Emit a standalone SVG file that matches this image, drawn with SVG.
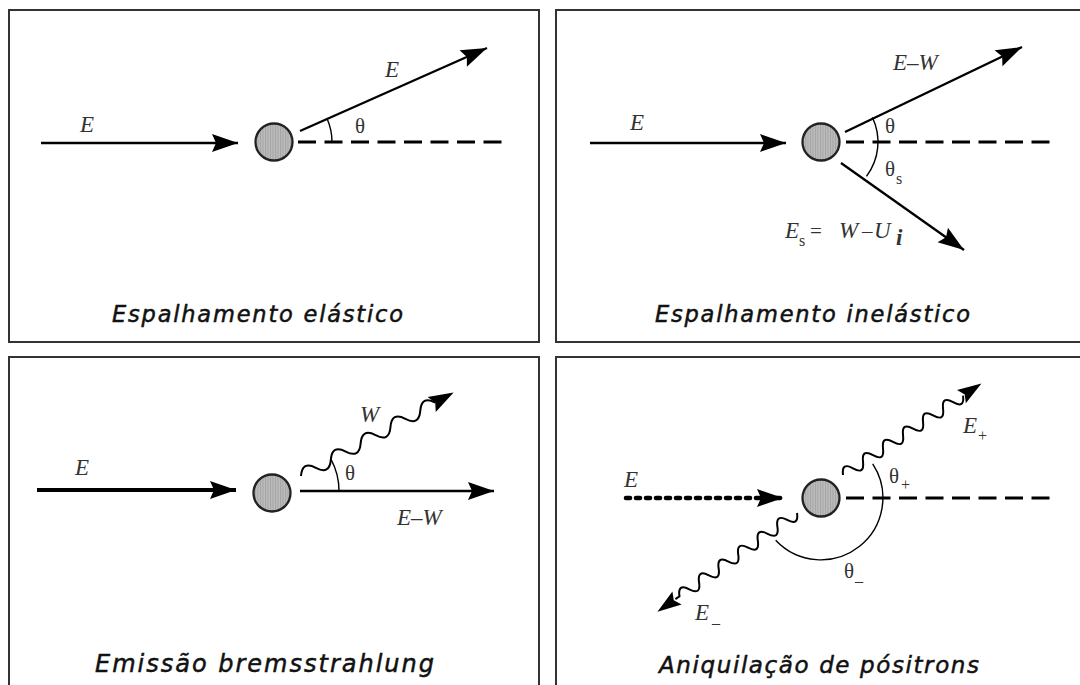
<svg xmlns="http://www.w3.org/2000/svg" width="1080" height="685" viewBox="0 0 1080 685">
<defs>
<style>
.frame{fill:none;stroke:#333;stroke-width:2}
.ln{fill:none;stroke:#000;stroke-width:2.3}
.thick{fill:none;stroke:#000;stroke-width:3.8}
.dots{fill:none;stroke:#000;stroke-width:4.6;stroke-linecap:round;stroke-dasharray:4 6}
.dash{fill:none;stroke:#000;stroke-width:2.8;stroke-dasharray:18 8.5}
.arc{fill:none;stroke:#000;stroke-width:1.4}
.wave{fill:none;stroke:#000;stroke-width:2}
.head{fill:#000}
.m{font-family:"Liberation Serif","DejaVu Serif",serif;font-size:23px;font-style:italic;fill:#333}
.g{font-family:"Liberation Serif","DejaVu Serif",serif;font-size:21px;fill:#333}
.sub{font-family:"Liberation Serif","DejaVu Serif",serif;font-size:16px;fill:#333}
.cap{font-family:"DejaVu Sans","Liberation Sans",sans-serif;font-style:italic;fill:#111;stroke:#111;stroke-width:0.5}
.atom{fill:url(#stripe);stroke:#222;stroke-width:2.3}
</style>
<pattern id="stripe" width="2.5" height="4" patternUnits="userSpaceOnUse">
<rect width="2.5" height="4" fill="#bcbcbc"/>
<rect width="1" height="4" fill="#a4a4a4"/>
</pattern>
<marker id="ah" markerUnits="userSpaceOnUse" viewBox="-28 -10 30 20" refX="0" refY="0" markerWidth="30" markerHeight="20" orient="auto">
<path d="M0,0 L-26,-9 L-22,0 L-26,9 Z" fill="#000"/>
</marker>
</defs>
<rect width="1080" height="685" fill="#fff"/>

<g id="panel-elastic">
<rect class="frame" x="9" y="10" width="530" height="332"/>
<g id="atom1"><circle class="atom" cx="274" cy="142" r="18.5"/></g>
<g id="connectors1">
<line class="ln" x1="41" y1="143" x2="238" y2="143" marker-end="url(#ah)"/>
<line class="dash" x1="298" y1="142" x2="503" y2="142"/>
<line class="ln" x1="300" y1="131" x2="487" y2="48" marker-end="url(#ah)"/>
<path class="arc" d="M327,118.5 A58,58 0 0 1 332,142"/>
</g>
<text class="m" x="80" y="132">E</text>
<text class="m" x="385" y="77">E</text>
<text class="g" x="355" y="133">θ</text>
<text class="cap" x="112" y="322" font-size="22.5" textLength="291" lengthAdjust="spacing">Espalhamento elástico</text>
</g>

<g id="panel-inelastic">
<rect class="frame" x="556" y="10" width="540" height="332"/>
<g id="atom2"><circle class="atom" cx="821" cy="142" r="18.5"/></g>
<g id="connectors2">
<line class="ln" x1="590" y1="143" x2="786" y2="143" marker-end="url(#ah)"/>
<line class="dash" x1="846" y1="142" x2="1053" y2="142"/>
<line class="ln" x1="845" y1="132" x2="1022" y2="47" marker-end="url(#ah)"/>
<line class="ln" x1="841" y1="163" x2="964" y2="250" marker-end="url(#ah)"/>
<path class="arc" d="M872.4,117.4 A57,57 0 0 1 866.5,176.3"/>
</g>
<text class="m" x="630" y="130">E</text>
<text class="m" x="893" y="70">E–W</text>
<text class="g" x="885" y="133">θ</text>
<text class="g" x="885" y="176">θ</text>
<text class="sub" x="896" y="184" font-size="18">s</text>
<text class="m" x="785" y="238">E</text>
<text class="sub" x="799" y="246" font-size="19">s</text>
<text class="g" x="810" y="238" font-size="22">=</text>
<text class="m" x="839" y="238">W</text>
<text class="g" x="862" y="238">–</text>
<text class="m" x="874" y="238">U</text>
<text class="m" x="896" y="245" font-size="19" font-weight="bold">i</text>
<text class="cap" x="655" y="322" font-size="22.5" textLength="315" lengthAdjust="spacing">Espalhamento inelástico</text>
</g>

<g id="panel-bremsstrahlung">
<rect class="frame" x="9" y="357" width="530" height="340"/>
<g id="atom3"><circle class="atom" cx="272" cy="493" r="18.5"/></g>
<g id="connectors3">
<line class="thick" x1="37" y1="490" x2="236" y2="490" marker-end="url(#ah)"/>
<line class="ln" x1="300" y1="491" x2="494" y2="491" marker-end="url(#ah)"/>
<g transform="translate(301,476) rotate(-28.7)">
<path class="wave" d="M0,0 q8.5,-13 17,0 t17,0 t17,0 t17,0 t17,0 t17,0 t17,0 t17,0 t17,0"/>
<path class="head" d="M174,0 L149,-8.5 L153,0 L149,8.5 Z"/>
</g>
<path class="arc" d="M330.8,458.8 A67,67 0 0 1 339,491"/>
</g>
<text class="m" x="75" y="475">E</text>
<text class="m" x="360" y="422">W</text>
<text class="g" x="345" y="480">θ</text>
<text class="m" x="397" y="525">E–W</text>
<text class="cap" x="95" y="672" font-size="24" textLength="339" lengthAdjust="spacing">Emissão bremsstrahlung</text>
</g>

<g id="panel-annihilation">
<rect class="frame" x="556" y="357" width="540" height="340"/>
<g id="atom4"><circle class="atom" cx="821" cy="498" r="18.5"/></g>
<g id="connectors4">
<line class="dots" x1="626" y1="498" x2="783" y2="498" marker-end="url(#ah)"/>
<line class="dash" x1="846" y1="498" x2="1053" y2="498"/>
<g transform="translate(843,475) rotate(-33.5)">
<path class="wave" d="M0,0 q6,-12 12,0 t12,0 t12,0 t12,0 t12,0 t12,0 t12,0 t12,0 t12,0 t12,0 t12,0 t12,0"/>
<path class="head" d="M166,0 L142,-8 L146,0 L142,8 Z"/>
</g>
<g transform="translate(797,513) rotate(144.7)">
<path class="wave" d="M0,0 q6,-12 12,0 t12,0 t12,0 t12,0 t12,0 t12,0 t12,0 t12,0 t12,0 t12,0 t12,0 t12,0 L149,0"/>
<path class="head" d="M171,0 L147,-8 L151,0 L147,8 Z"/>
</g>
<path class="arc" d="M872.7,463.8 A62,62 0 0 1 775.7,540.3"/>
</g>
<text class="m" x="624" y="487">E</text>
<text class="m" x="963" y="433">E</text>
<text class="sub" x="978" y="441">+</text>
<text class="g" x="889" y="483">θ</text>
<text class="sub" x="901" y="490">+</text>
<text class="g" x="844" y="578">θ</text>
<text class="sub" x="855" y="586">–</text>
<text class="m" x="695" y="620">E</text>
<text class="sub" x="712" y="628">–</text>
<text class="cap" x="659" y="673" font-size="23" textLength="320" lengthAdjust="spacing">Aniquilação de pósitrons</text>
</g>
</svg>
